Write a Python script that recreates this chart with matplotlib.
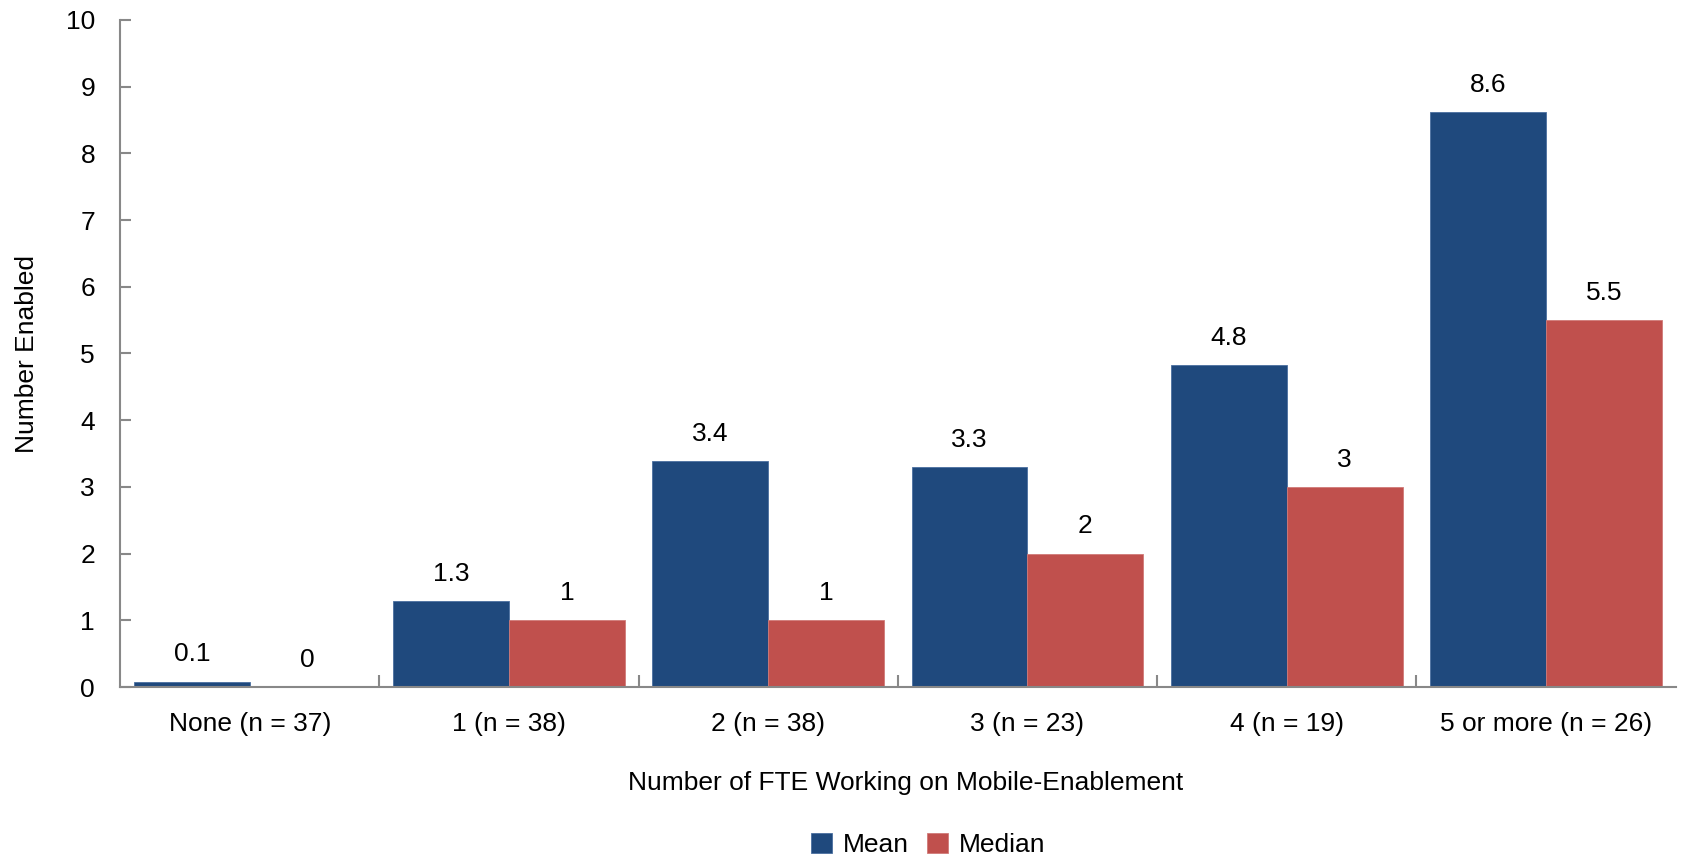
import matplotlib
matplotlib.use("Agg")
import matplotlib.pyplot as plt
import numpy as np
from matplotlib.ticker import FixedLocator

categories = ["None (n = 37)", "1 (n = 38)", "2 (n = 38)", "3 (n = 23)", "4 (n = 19)", "5 or more (n = 26)"]
mean_values = [0.08, 1.29, 3.39, 3.30, 4.83, 8.62]
median_values = [0, 1, 1, 2, 3, 5.5]
mean_labels = ["0.1", "1.3", "3.4", "3.3", "4.8", "8.6"]
median_labels = ["0", "1", "1", "2", "3", "5.5"]
yticks = list(range(0, 11))

plt.rcParams['font.family'] = ['Liberation Sans Narrow', 'Liberation Sans', 'DejaVu Sans']

fig = plt.figure(figsize=(16.96, 8.58), dpi=100)
ax = fig.add_axes([0.0708, 0.1993, 0.9172, 0.7774])

x = np.arange(len(categories))
w = 0.447
c_mean = "#1F497D"
c_med = "#C0504D"
b1 = ax.bar(x - w/2, mean_values, w, color=c_mean, label="Mean", edgecolor="#4A6FA0", linewidth=0.6)
b2 = ax.bar(x + w/2, median_values, w, color=c_med, label="Median", edgecolor="#D07A78", linewidth=0.6)

fs = 19
for rect, lab in zip(b1, mean_labels):
    ax.annotate(lab, (rect.get_x() + rect.get_width()/2, rect.get_height()),
                xytext=(0, 11), textcoords="offset points", ha="center", va="bottom", fontsize=fs)
for rect, lab in zip(b2, median_labels):
    ax.annotate(lab, (rect.get_x() + rect.get_width()/2, rect.get_height()),
                xytext=(0, 11), textcoords="offset points", ha="center", va="bottom", fontsize=fs)

ax.set_xlim(-0.5, len(categories) - 0.5)
ax.set_ylim(0, 10)
ax.set_yticks(yticks)
ax.set_xticks(x)
ax.set_xticklabels(categories, fontsize=fs)
ax.xaxis.set_minor_locator(FixedLocator(np.arange(0.5, len(categories) - 0.5, 1)))
ax.tick_params(axis='x', which='major', length=0, pad=18)
ax.tick_params(axis='x', which='minor', length=9, direction='in', color='#888888', width=1.5)
ax.tick_params(axis='y', which='major', length=8, direction='in', color='#888888', width=1.5, labelsize=fs, pad=18)

for s in ['top', 'right']:
    ax.spines[s].set_visible(False)
for s in ['left', 'bottom']:
    ax.spines[s].set_color('#888888')
    ax.spines[s].set_linewidth(1.5)

fig.text(906/1696, 1 - 783/858, "Number of FTE Working on Mobile-Enablement", ha="center", va="center", fontsize=fs)
fig.text(27/1696, 1 - 354/858, "Number Enabled", ha="center", va="center", rotation=90, fontsize=fs)

fig.legend(handles=[b1, b2], labels=["Mean", "Median"], loc="center", bbox_to_anchor=(928/1696, 1 - 845/858),
           ncol=2, frameon=False, fontsize=fs, handlelength=0.8, handleheight=0.8, handletextpad=0.4, columnspacing=0.7)

fig.savefig("out.png", dpi=100)
